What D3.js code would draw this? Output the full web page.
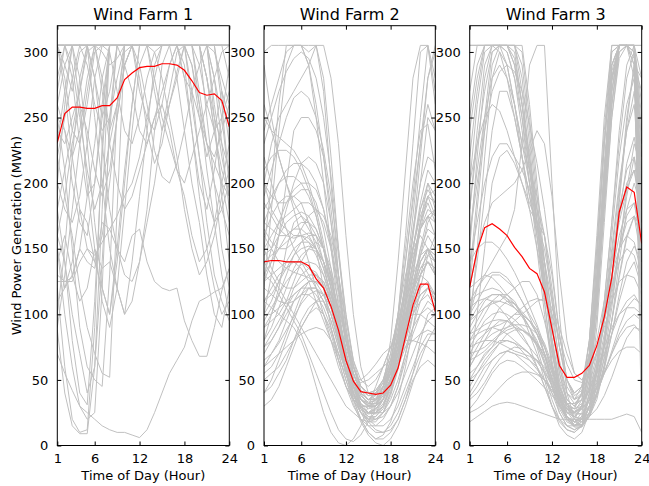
<!DOCTYPE html>
<html>
<head>
<meta charset="utf-8">
<script src="https://cdn.jsdelivr.net/npm/d3@7"></script>
<style>
  body { margin: 0; background: #fff; }
  svg { display: block; font-family: "DejaVu Sans", sans-serif; }
</style>
</head>
<body>
<svg id="chart"></svg>
<script>
const W = 649;
const H = 486;

const hours = [1,2,3,4,5,6,7,8,9,10,11,12,13,14,15,16,17,18,19,20,21,22,23,24];
const xTicks = [1, 6, 12, 18, 24];
const yTicks = [0, 50, 100, 150, 200, 250, 300];
const titles = ["Wind Farm 1", "Wind Farm 2", "Wind Farm 3"];

// scenario lines, wind farm 1
const farm1Lines = [
  [305,305,305,305,305,305,305,305,305,305,305,305,305,305,305,305,305,305,305,305,305,305,305,305],
  [230,270,305,305,305,305,280,240,260,300,305,305,305,305,305,305,305,305,290,250,220,240,270,250],
  [305,305,280,230,190,200,250,305,305,305,305,305,305,305,305,305,305,280,240,200,180,210,250,290],
  [88,40,15,9,9,60,180,305,305,305,305,305,305,305,305,305,305,305,305,305,305,305,270,230],
  [70,55,42,30,25,20,15,12,10,10,8,6,12,25,40,55,65,75,95,110,113,117,120,135],
  [125,125,128,150,140,135,170,165,150,140,160,165,140,125,120,118,120,95,80,68,68,90,118,135],
  [200,260,305,305,305,250,200,150,120,100,140,190,240,290,305,305,305,305,305,305,305,305,305,305],
  [305,305,305,305,290,260,240,250,280,305,305,305,305,305,305,305,305,305,305,305,280,250,230,210],
  [150,100,60,30,20,25,120,250,305,305,305,305,305,305,305,305,305,305,305,305,305,300,280,260],
  [305,305,305,305,305,305,305,305,305,305,305,305,305,280,250,230,210,190,160,140,150,170,200,230],
  [260,290,305,305,305,305,305,305,305,305,305,305,305,305,305,305,305,305,260,220,170,130,110,95],
  [305,280,240,230,260,300,305,305,305,305,305,305,305,305,305,305,305,305,305,305,305,305,305,305],
  [180,210,240,270,300,305,305,305,305,305,305,305,305,270,240,260,280,305,305,305,305,305,305,280],
  [305,305,305,305,305,280,230,180,150,130,125,140,170,200,240,270,300,305,305,305,305,305,305,305],
  [100,150,220,280,305,305,305,305,305,305,305,305,305,305,305,305,305,305,305,305,305,250,190,140],
  [305,305,305,280,230,170,120,100,140,200,260,305,305,305,305,305,305,305,305,305,305,305,305,305],
  [250,240,200,170,160,200,260,305,305,305,305,305,305,305,305,305,305,305,305,305,280,240,200,170],
  [305,305,305,305,305,305,305,305,305,290,270,240,230,250,260,240,210,200,220,240,260,280,300,305],
  [140,160,130,110,120,150,135,140,120,100,110,140,180,240,290,305,305,305,305,305,305,305,305,305],
  [305,305,305,305,305,305,305,305,305,305,305,305,305,305,305,305,305,305,305,305,305,280,230,180],
  [220,250,280,305,305,305,305,300,270,240,230,250,280,300,305,305,305,305,305,305,305,305,305,305],
  [305,305,290,250,210,180,200,230,260,290,305,305,305,305,305,305,305,305,305,305,305,305,305,305],
  [270,305,305,305,305,305,305,305,305,305,305,305,305,305,305,305,305,305,305,290,260,240,250,270],
  [110,120,130,150,190,230,280,305,305,305,305,305,305,305,305,305,305,305,305,305,305,305,305,305],
  [305,305,305,305,305,305,270,230,200,180,190,210,230,250,270,290,305,305,305,305,305,305,305,305],
  [160,140,100,70,40,60,140,240,305,305,305,305,305,305,305,305,305,305,305,305,305,305,305,305],
  [305,305,305,305,305,305,305,305,305,305,305,305,305,300,280,250,220,180,150,130,140,160,190,210],
  [240,230,250,270,305,305,305,305,305,305,305,305,305,305,305,305,305,305,270,220,190,170,180,200],
  [200,180,170,190,230,280,305,305,305,305,305,305,305,305,305,305,305,280,270,250,230,215,200,190],
  [305,305,305,305,305,305,305,305,305,305,305,290,260,225,205,200,215,240,270,290,305,305,305,305],
  [130,125,125,140,150,145,155,165,175,190,200,220,250,280,305,305,305,305,305,305,305,305,305,305],
  [305,305,305,260,200,150,110,90,120,180,240,290,305,305,305,305,305,305,305,305,305,305,260,200],
  [120,60,20,10,12,90,230,305,305,305,305,305,305,305,305,305,305,305,305,305,305,280,250,200],
  [180,140,80,40,31,110,220,305,305,305,305,305,305,305,305,305,305,290,240,190,150,120,100,110],
  [250,210,150,90,60,50,45,130,260,305,305,305,305,305,305,305,305,305,305,305,305,305,305,305],
  [220,190,160,120,90,70,55,52,180,305,305,305,305,305,305,305,305,305,305,270,230,200,180,160],
  [305,290,270,300,305,280,250,270,305,305,305,305,305,305,305,305,305,305,305,305,305,305,305,305],
  [280,305,305,305,305,305,305,305,305,305,305,280,240,215,230,260,285,305,305,305,305,305,305,305],
  [305,305,305,305,305,305,300,290,295,305,305,305,305,305,305,305,305,305,290,260,230,220,240,260],
  [160,190,230,260,240,210,190,210,250,290,305,305,305,305,305,305,305,305,305,305,280,240,210,190],
  [305,305,305,305,305,305,305,305,305,305,305,305,305,305,305,305,280,240,200,170,130,100,90,120],
  [90,130,180,230,270,305,305,305,305,305,305,305,305,305,305,305,305,305,305,305,305,260,220,190],
  [305,270,220,180,150,140,160,200,250,290,305,305,305,305,305,305,305,305,305,305,305,305,305,305],
  [260,240,220,240,280,305,305,305,305,305,305,305,305,305,305,305,305,305,305,305,250,200,150,120],
  [305,305,305,305,305,305,305,305,305,305,305,305,305,305,305,305,305,305,305,260,210,170,130,100],
  [150,120,140,180,170,140,120,100,150,210,260,305,305,305,305,305,305,305,305,305,305,305,305,305],
  [305,305,305,305,305,305,305,305,305,305,305,270,250,240,260,290,305,305,305,305,305,305,305,305]
];

// scenario lines, wind farm 2
const farm2Lines = [
  [290,250,220,200,180,160,140,120,100,80,60,45,35,30,30,35,45,60,80,100,120,130,125,115],
  [150,200,260,305,305,305,305,305,270,200,130,70,40,25,20,25,35,60,100,160,230,300,305,260],
  [120,180,240,290,305,305,300,305,280,220,150,90,50,30,25,30,45,80,140,210,280,305,305,280],
  [100,130,160,200,240,250,250,240,220,180,130,80,50,35,30,30,40,60,100,150,200,240,245,210],
  [200,230,250,260,270,280,290,305,305,280,230,160,100,60,40,35,40,55,80,110,140,165,175,160],
  [80,100,120,150,170,175,170,160,140,110,80,55,40,30,25,28,35,50,70,95,120,140,150,140],
  [160,175,185,190,190,185,170,150,120,90,65,45,35,30,30,33,40,55,80,120,160,200,250,240],
  [130,140,150,160,165,165,160,150,135,115,90,65,45,35,30,32,40,55,75,100,125,145,160,150],
  [60,70,80,95,110,120,125,125,120,110,95,75,55,40,35,35,40,50,65,85,105,120,125,110],
  [180,190,200,205,205,200,190,175,150,120,85,55,35,25,20,20,25,40,60,90,120,150,175,180],
  [140,130,120,110,100,90,80,70,60,50,40,30,25,20,18,20,25,35,50,70,90,110,120,115],
  [100,110,125,140,150,155,155,150,140,125,105,80,60,45,40,40,45,55,70,90,110,130,140,130],
  [220,200,180,165,150,140,130,120,110,95,75,55,40,30,25,25,30,45,65,95,130,170,200,180],
  [50,55,60,70,80,90,100,110,115,115,105,85,60,40,30,25,25,30,40,55,70,85,95,100],
  [170,165,160,160,165,170,170,165,150,130,100,70,45,30,25,25,30,45,70,105,140,170,185,170],
  [110,120,130,135,140,140,135,130,120,105,85,65,50,40,35,35,40,50,65,85,105,115,120,110],
  [240,260,280,300,305,305,290,260,220,170,120,80,55,40,35,40,50,70,100,130,150,160,150,130],
  [90,95,100,110,125,140,150,155,150,135,110,80,55,40,35,35,40,50,60,75,90,100,105,100],
  [130,150,170,185,195,200,200,195,180,155,120,85,60,45,40,42,50,70,100,140,185,230,260,240],
  [70,80,90,100,110,115,115,110,100,85,65,45,30,20,15,15,20,30,45,65,85,100,110,105],
  [200,180,170,165,160,160,158,150,135,115,90,65,45,35,30,30,35,50,75,110,150,180,195,185],
  [40,45,55,65,80,95,105,110,110,100,80,55,35,20,10,5,5,10,20,35,50,60,65,60],
  [150,160,170,175,180,185,185,180,170,150,120,85,55,40,35,38,48,65,90,120,150,175,190,175],
  [120,115,110,108,110,115,120,120,115,100,80,60,45,35,30,30,35,45,60,80,100,115,120,115],
  [260,240,220,200,185,175,165,155,140,120,95,70,50,40,35,35,40,55,75,100,120,135,140,130],
  [80,90,105,120,135,145,150,148,140,125,100,70,45,30,20,15,15,20,30,45,60,75,85,85],
  [165,155,150,150,155,165,175,180,175,160,130,95,65,50,45,50,60,75,95,120,145,165,175,170],
  [100,100,105,110,115,120,120,115,105,90,70,50,35,25,20,22,30,45,65,90,115,135,145,140],
  [55,60,70,85,100,115,125,130,125,110,90,65,45,35,30,30,35,45,60,80,100,110,115,105],
  [190,210,230,250,265,270,265,250,225,190,145,100,65,45,38,38,45,60,85,115,150,180,200,190],
  [140,145,150,155,160,160,155,145,130,110,85,60,40,28,22,22,28,40,60,85,110,130,140,135],
  [75,85,95,105,115,120,125,125,120,105,85,60,40,25,15,10,10,15,25,40,55,70,80,80],
  [210,220,225,225,220,210,195,175,150,120,90,65,45,35,32,35,45,65,95,140,190,250,305,270],
  [125,130,135,140,140,135,125,110,95,80,65,55,50,48,50,55,60,65,70,75,80,85,88,85],
  [60,65,70,75,80,85,88,90,88,80,70,60,52,50,55,62,70,75,78,80,80,78,75,70],
  [150,135,125,120,120,125,130,130,125,110,90,65,45,30,22,20,22,30,45,70,100,130,150,145],
  [110,105,100,95,90,80,65,45,25,10,2,0,5,15,30,45,60,75,85,95,100,100,95,90],
  [130,125,115,105,95,85,70,55,40,25,12,5,3,8,18,30,45,60,75,90,105,115,120,115],
  [300,305,305,305,305,305,290,250,200,150,105,70,45,30,25,28,35,50,70,95,120,140,150,140],
  [40,50,65,80,95,110,120,120,110,95,75,55,35,20,10,5,8,18,35,60,90,120,145,160],
  [250,240,235,230,225,215,200,180,155,125,95,65,42,30,25,27,35,50,75,110,160,220,280,300],
  [170,185,200,210,215,215,210,200,180,150,115,80,55,42,38,40,48,62,85,115,150,185,210,200],
  [90,100,115,130,145,155,160,160,150,130,100,70,45,28,18,12,10,12,20,35,55,80,100,105],
  [110,115,125,135,145,150,152,150,140,120,95,70,50,38,32,32,38,50,70,95,120,140,150,145],
  [200,190,185,185,190,195,195,185,165,135,100,70,48,35,30,30,35,48,70,100,135,165,180,175],
  [30,35,45,60,75,90,100,105,100,88,70,50,32,18,8,2,0,5,15,30,48,65,80,90],
  [145,150,160,170,175,178,175,165,150,128,100,72,50,38,33,34,42,58,85,125,175,230,280,305],
  [75,80,90,105,120,130,135,132,122,105,82,58,38,25,18,18,25,38,58,85,115,145,170,180],
  [185,175,165,160,158,160,162,160,150,130,100,70,45,32,28,30,38,52,75,105,140,170,190,185],
  [125,140,160,180,200,215,220,215,200,170,130,90,60,45,40,42,50,65,90,125,165,200,220,215],
  [65,70,78,88,98,108,115,118,115,105,88,66,48,36,30,30,36,48,65,88,112,130,140,135],
  [160,150,140,135,132,130,128,124,115,100,78,55,38,28,24,25,32,45,65,95,130,165,190,195],
  [95,105,115,125,132,138,140,138,130,115,92,68,46,32,25,24,30,42,62,90,122,150,165,160],
  [230,250,270,285,295,300,295,280,250,205,150,100,62,42,35,36,44,60,82,108,130,145,150,140]
];

// scenario lines, wind farm 3
const farm3Lines = [
  [305,305,305,305,305,305,305,280,230,170,110,60,30,20,20,30,60,120,200,280,305,305,305,250],
  [250,290,305,305,305,305,290,250,200,150,100,60,35,25,25,35,70,140,230,300,305,305,305,200],
  [200,260,300,305,305,300,280,240,200,160,120,80,45,30,28,40,80,150,240,305,305,305,290,150],
  [150,220,280,305,300,280,250,220,190,160,120,80,50,35,30,40,70,130,210,280,305,305,305,280],
  [305,305,305,305,305,305,305,305,260,200,140,80,40,25,22,30,55,110,190,270,305,305,305,305],
  [120,180,240,290,305,290,260,230,210,190,160,110,60,35,30,40,80,160,250,305,305,305,300,220],
  [220,270,305,305,305,305,305,270,220,170,120,75,40,25,22,28,50,100,180,260,305,305,305,180],
  [180,230,270,300,305,300,280,250,210,170,130,90,55,35,30,35,60,110,190,270,305,305,305,240],
  [90,150,220,280,300,290,260,220,180,150,120,90,60,40,35,45,80,150,230,290,305,305,280,120],
  [160,210,250,280,290,280,260,230,200,170,140,100,65,40,32,38,65,120,200,270,305,305,290,210],
  [270,305,305,305,305,305,300,260,210,160,110,65,35,20,15,20,40,90,170,250,300,305,305,260],
  [100,140,190,240,270,270,250,220,190,165,140,110,75,50,40,45,70,120,190,260,300,305,295,170],
  [140,170,200,220,230,230,220,210,195,180,160,120,75,45,35,40,65,110,180,250,295,305,300,230],
  [200,230,250,260,255,240,220,200,180,170,160,130,85,50,38,42,70,130,210,280,305,305,305,140],
  [60,100,150,200,220,225,215,200,185,170,150,115,75,50,40,45,70,120,190,260,305,305,300,100],
  [100,120,130,140,150,160,180,230,290,305,305,200,100,40,20,15,40,120,200,277,305,305,305,305],
  [120,150,170,185,190,195,200,210,225,240,230,190,130,80,55,50,60,80,110,140,170,195,210,180],
  [80,90,100,110,115,115,110,100,85,70,50,30,15,8,5,10,25,55,100,160,220,260,280,200],
  [60,70,80,90,95,95,90,85,75,60,45,30,20,15,15,20,35,60,100,150,200,240,260,180],
  [90,100,110,115,115,110,105,100,90,75,55,35,20,12,10,15,30,60,110,170,230,280,300,150],
  [50,60,70,75,80,80,78,75,70,60,45,30,18,12,10,15,30,55,95,140,180,210,220,160],
  [70,80,85,90,88,85,80,75,70,65,55,40,25,15,12,15,25,40,60,85,110,130,140,120],
  [40,50,60,65,70,72,70,68,65,60,50,40,30,22,18,20,28,40,55,70,85,95,100,95],
  [100,110,120,130,130,125,120,110,100,90,70,45,25,15,12,15,30,60,110,170,240,290,305,230],
  [75,78,80,80,78,75,72,70,68,65,60,50,40,30,28,32,42,58,75,90,100,105,105,100],
  [37,45,55,65,70,72,70,65,60,55,50,42,35,28,25,28,35,45,55,65,72,75,75,70],
  [18,22,26,30,32,33,32,30,28,26,24,22,20,20,20,20,20,20,20,20,22,24,22,10],
  [85,95,105,110,110,108,105,100,95,88,75,55,35,22,18,22,38,65,100,140,175,200,210,170],
  [110,115,118,120,118,112,105,98,90,80,65,45,28,18,15,20,35,60,95,130,160,180,185,150],
  [55,60,68,75,85,95,100,100,95,85,70,50,32,20,15,18,30,50,80,115,150,175,185,160],
  [65,75,85,95,105,110,108,100,90,78,62,45,30,20,18,22,35,55,85,120,150,170,175,140],
  [95,100,105,108,110,115,120,125,125,115,95,70,45,30,25,30,45,70,100,130,150,160,155,130],
  [45,55,65,72,78,80,78,72,65,58,50,42,35,32,32,35,42,55,70,85,100,110,115,105],
  [120,125,130,128,122,115,108,100,95,88,78,62,45,32,28,30,42,65,100,145,195,240,270,220],
  [70,72,75,80,85,90,95,100,105,110,112,105,90,70,55,50,55,70,90,110,125,130,128,115],
  [28,35,45,55,62,65,64,60,55,50,44,38,32,28,26,28,34,44,56,70,82,90,92,85],
  [80,85,88,90,92,95,100,105,110,112,110,100,82,62,50,48,55,72,95,120,140,150,145,125],
  [105,110,112,110,105,98,90,82,75,68,58,45,32,22,18,20,30,48,75,110,150,190,220,190],
  [305,305,305,305,305,305,305,300,250,190,130,75,38,22,18,25,50,110,200,290,305,305,305,10],
  [240,280,305,305,305,305,305,290,240,180,125,72,38,22,18,22,45,100,190,280,305,305,305,60],
  [180,240,290,305,305,305,295,260,215,170,125,82,48,30,25,30,55,115,205,285,305,305,305,30],
  [130,190,250,300,305,305,290,260,220,180,140,95,55,32,25,30,60,125,215,290,305,305,300,190],
  [60,70,80,85,88,90,92,92,90,85,75,60,42,28,20,18,22,35,60,95,140,180,200,180],
  [95,105,112,115,115,112,108,102,95,85,70,50,32,20,15,15,25,45,80,125,175,215,235,200],
  [50,55,62,70,78,85,88,88,85,78,68,52,35,22,15,15,22,38,62,95,130,160,175,155],
  [75,85,95,100,102,100,96,90,84,76,64,48,32,20,14,14,22,40,68,105,150,195,230,210],
  [35,40,48,58,66,72,75,74,70,64,56,46,36,28,24,24,30,40,55,72,90,105,112,108],
  [110,120,128,132,132,128,120,110,98,85,70,52,35,22,16,16,25,45,78,125,185,245,290,270],
  [85,88,92,95,96,95,92,88,83,77,68,56,42,30,22,20,25,38,58,85,115,140,152,140],
  [65,68,72,78,84,88,90,88,84,78,70,58,44,32,25,24,30,44,66,95,128,158,175,165],
  [140,150,155,155,150,142,132,120,106,92,76,58,40,26,18,16,22,40,75,125,190,250,290,280],
  [25,28,32,38,44,50,54,56,56,54,50,44,36,28,22,20,22,28,38,52,68,82,90,88],
  [160,200,240,270,285,290,285,270,245,215,180,135,85,50,35,38,70,140,230,300,305,305,305,100]
];

// red lines
const farm1Mean = [231,253,258,258,257,257,259,259,265,279,284,288,289,289,291,291,290,286,278,269,267,268,263,243];
const farm2Mean = [140,141,141,140,140,140,137,127,120,106,88,65,49,41,40,39,40,46,59,83,107,123,123,102];
const farm3Mean = [121,149,166,169,165,160,151,144,135,131,117,89,61,52,52,55,61,76,98,128,178,197,193,154];

const panels = [
  { lines: farm1Lines, mean: farm1Mean, left: 57.3, right: 229.3 },
  { lines: farm2Lines, mean: farm2Mean, left: 264, right: 435.3 },
  { lines: farm3Lines, mean: farm3Mean, left: 469.7, right: 641.7 }
];
const plotTop = 25.7;
const plotBottom = 445.5;

const svg = d3.select("#chart").attr("width", W).attr("height", H);

const y = d3.scaleLinear().domain([0, 320]).range([plotBottom, plotTop]);

panels.forEach((p, i) => {
  const x = d3.scaleLinear().domain([1, 24]).range([p.left, p.right]);
  const line = d3.line().x((d, j) => x(hours[j])).y(d => y(d));

  const clipId = "clip" + i;
  svg.append("clipPath").attr("id", clipId)
    .append("rect")
    .attr("x", p.left).attr("y", plotTop)
    .attr("width", p.right - p.left).attr("height", plotBottom - plotTop);

  const g = svg.append("g").attr("clip-path", `url(#${clipId})`);

  g.selectAll("path.scen")
    .data(p.lines)
    .join("path")
    .attr("class", "scen")
    .attr("d", line)
    .attr("fill", "none")
    .attr("stroke", "#c0c0c0")
    .attr("stroke-width", 1);

  g.append("path")
    .datum(p.mean)
    .attr("d", line)
    .attr("fill", "none")
    .attr("stroke", "#ff0000")
    .attr("stroke-width", 1.2);

  // axes, matplotlib classic look: inward ticks on all sides
  const tickLen = 4;
  svg.append("g")
    .attr("transform", `translate(0,${plotBottom})`)
    .call(d3.axisBottom(x).tickValues(xTicks).tickSizeInner(-tickLen).tickSizeOuter(0).tickPadding(8))
    .call(a => a.select(".domain").remove());
  svg.append("g")
    .attr("transform", `translate(0,${plotTop})`)
    .call(d3.axisTop(x).tickValues(xTicks).tickSizeInner(-tickLen).tickSizeOuter(0).tickFormat(""))
    .call(a => a.select(".domain").remove());
  svg.append("g")
    .attr("transform", `translate(${p.left},0)`)
    .call(d3.axisLeft(y).tickValues(yTicks).tickSizeInner(-tickLen).tickSizeOuter(0).tickPadding(9))
    .call(a => a.select(".domain").remove());
  svg.append("g")
    .attr("transform", `translate(${p.right},0)`)
    .call(d3.axisRight(y).tickValues(yTicks).tickSizeInner(-tickLen).tickSizeOuter(0).tickFormat(""))
    .call(a => a.select(".domain").remove());

  svg.append("rect")
    .attr("x", p.left).attr("y", plotTop)
    .attr("width", p.right - p.left).attr("height", plotBottom - plotTop)
    .attr("fill", "none")
    .attr("stroke", "#000")
    .attr("stroke-width", 1);

  svg.append("text")
    .attr("x", (p.left + p.right) / 2)
    .attr("y", 20)
    .attr("text-anchor", "middle")
    .style("font-size", "16px")
    .text(titles[i]);

  svg.append("text")
    .attr("x", (p.left + p.right) / 2)
    .attr("y", 480)
    .attr("text-anchor", "middle")
    .style("font-size", "13px")
    .text("Time of Day (Hour)");
});

svg.selectAll(".tick text").style("font-size", "13px").attr("fill", "#000")
  .style("font-family", "DejaVu Sans, sans-serif");
svg.selectAll(".tick line").attr("stroke", "#000");

svg.append("text")
  .attr("transform", "rotate(-90)")
  .attr("x", -(plotTop + plotBottom) / 2)
  .attr("y", 21)
  .attr("text-anchor", "middle")
  .style("font-size", "13px")
  .text("Wind Power Generation (MWh)");
</script>
</body>
</html>
